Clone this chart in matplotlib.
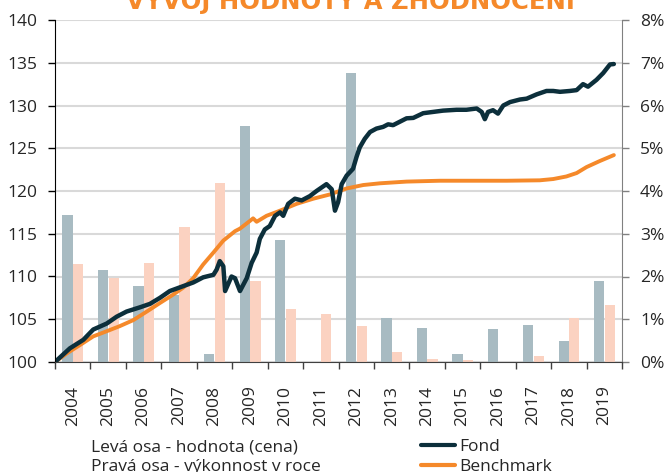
import matplotlib.pyplot as plt
from matplotlib.lines import Line2D

# yearly performance (right axis, %)
years = [str(y) for y in range(2004, 2020)]
fond_yearly = [3.43, 2.15, 1.77, 1.56, 0.19, 5.53, 2.86, 0.0, 6.77, 1.03, 0.80, 0.18, 0.78, 0.86, 0.50, 1.89]
bench_yearly = [2.30, 1.97, 2.32, 3.15, 4.18, 1.90, 1.23, 1.12, 0.84, 0.23, 0.08, 0.04, 0.0, 0.13, 1.02, 1.34]

# value development (left axis)
fond_t = [2004.00, 2004.42, 2004.80, 2005.08, 2005.46, 2005.74, 2006.02, 2006.40, 2006.68, 2006.96,
          2007.24, 2007.57, 2007.90, 2008.18, 2008.47, 2008.56, 2008.65, 2008.75, 2008.80, 2008.98,
          2009.08, 2009.22, 2009.41, 2009.55, 2009.69, 2009.78, 2009.92, 2010.06, 2010.21, 2010.35,
          2010.44, 2010.58, 2010.77, 2010.96, 2011.19, 2011.38, 2011.66, 2011.81, 2011.90, 2011.99,
          2012.09, 2012.23, 2012.41, 2012.51, 2012.60, 2012.74, 2012.89, 2013.07, 2013.26, 2013.40,
          2013.54, 2013.73, 2013.92, 2014.11, 2014.39, 2014.67, 2014.95, 2015.33, 2015.61, 2015.90,
          2016.04, 2016.13, 2016.22, 2016.36, 2016.50, 2016.65, 2016.84, 2017.12, 2017.31, 2017.59,
          2017.87, 2018.06, 2018.25, 2018.53, 2018.72, 2018.90, 2019.04, 2019.28, 2019.47, 2019.66,
          2019.77]
fond_v = [100.0, 101.6, 102.6, 103.8, 104.5, 105.3, 105.9, 106.4, 106.8, 107.5,
          108.3, 108.8, 109.3, 109.9, 110.2, 110.8, 111.8, 111.2, 108.3, 110.0,
          109.8, 108.3, 109.8, 111.6, 112.8, 114.4, 115.5, 115.9, 117.1, 117.5,
          117.1, 118.5, 119.1, 118.9, 119.4, 120.0, 120.8, 120.2, 117.7, 118.7,
          120.8, 121.8, 122.6, 124.0, 125.1, 126.1, 126.9, 127.3, 127.5, 127.8,
          127.7, 128.1, 128.5, 128.55, 129.1, 129.25, 129.4, 129.5, 129.5, 129.65,
          129.25, 128.4, 129.25, 129.45, 129.05, 130.0, 130.4, 130.7, 130.8, 131.3,
          131.7, 131.7, 131.6, 131.7, 131.8, 132.5, 132.2, 133.0, 133.8, 134.8,
          134.85]

bench_t = [2004.00, 2004.33, 2004.71, 2005.08, 2005.46, 2005.83, 2006.21, 2006.59, 2006.96, 2007.34,
           2007.62, 2007.90, 2008.18, 2008.47, 2008.75, 2009.08, 2009.22, 2009.50, 2009.59, 2009.69,
           2009.97, 2010.35, 2010.82, 2011.29, 2011.76, 2012.23, 2012.70, 2013.17, 2013.92, 2014.86,
           2015.80, 2016.74, 2017.68, 2018.06, 2018.43, 2018.72, 2019.00, 2019.37, 2019.77]
bench_v = [100.0, 101.0, 102.0, 103.0, 103.6, 104.2, 104.9, 105.9, 106.9, 107.9,
           108.7, 109.8, 111.4, 112.8, 114.2, 115.3, 115.6, 116.5, 116.8, 116.4,
           117.1, 117.7, 118.5, 119.1, 119.6, 120.3, 120.7, 120.9, 121.1, 121.2,
           121.2, 121.2, 121.25, 121.4, 121.7, 122.1, 122.8, 123.5, 124.2]

plt.rcParams['font.family'] = ['Open Sans', 'DejaVu Sans']
txt = '#262626'

fig = plt.figure(figsize=(6.65, 4.72), dpi=100)
ax = fig.add_axes([55 / 665, 1 - 362 / 472, 567 / 665, 342 / 472])
ax2 = ax.twinx()

# bars on the right axis
centers = [2004.5 + i for i in range(len(years))]
bw = 0.29
ax2.bar([c - bw / 2 for c in centers], fond_yearly, width=bw, color='#a8bbc2', linewidth=0, zorder=2)
ax2.bar([c + bw / 2 + 0.01 for c in centers], bench_yearly, width=bw, color='#fbd2c1', linewidth=0, zorder=2)
ax2.set_ylim(0, 8)
ax2.set_yticks(range(0, 9))
ax2.set_yticklabels([f'{i}%' for i in range(0, 9)])
ax2.set_axisbelow(True)
ax2.yaxis.grid(True, color='#d9d9d9', linewidth=1.5)

# lines on the left axis, drawn above bars
ax.set_zorder(ax2.get_zorder() + 1)
ax.patch.set_visible(False)
ax.plot(bench_t, bench_v, color='#f5892a', linewidth=2.8, solid_capstyle='round', label='Benchmark')
ax.plot(fond_t, fond_v, color='#0c2f3b', linewidth=3.2, solid_capstyle='round', label='Fond')
ax.set_ylim(100, 140)
ax.set_yticks(range(100, 141, 5))
ax.set_xlim(2004, 2020)
ax.set_xticks(centers)
ax.set_xticklabels(years, rotation=90)
ax.set_xticks(range(2004, 2021), minor=True)
ax.tick_params(axis='x', which='major', length=0, pad=17, labelsize=12.5, labelcolor=txt)
ax.tick_params(axis='x', which='minor', length=5, width=1, color='#404040')
ax.tick_params(axis='y', length=5, width=1, color='black', pad=8, labelsize=12.5, labelcolor=txt)
ax2.tick_params(axis='y', length=5, width=1, color='#808080', pad=8, labelsize=12.5, labelcolor=txt)

for a in (ax, ax2):
    a.spines['top'].set_visible(False)
ax.spines['right'].set_visible(False)
ax2.spines['left'].set_visible(False)
ax2.spines['bottom'].set_visible(False)
ax2.spines['right'].set_color('#808080')
ax.spines['left'].set_color('black')
ax.spines['bottom'].set_color('#404040')

# title, cut off at the top edge like in the original
fig.text(350 / 665, 1 - 9.5 / 472, 'VÝVOJ HODNOTY A ZHODNOCENÍ', ha='center', va='baseline',
         color='#f5892a', fontsize=17.5, fontweight='bold', family='DejaVu Sans')

fig.text(91 / 665, 1 - 447 / 472, 'Levá osa - hodnota (cena)', ha='left', va='center',
         fontsize=12.5, color=txt)
fig.text(91 / 665, 1 - 467 / 472, 'Pravá osa - výkonnost v roce', ha='left', va='center',
         fontsize=12.5, color=txt)

handles = [Line2D([], [], color='#0c2f3b', linewidth=3.0, solid_capstyle='round'),
           Line2D([], [], color='#f5892a', linewidth=3.0, solid_capstyle='round')]
fig.legend(handles, ['Fond', 'Benchmark'], loc='center left',
           bbox_to_anchor=(412 / 665, 1 - 457 / 472), frameon=False, fontsize=12.5,
           handlelength=2.0, handletextpad=0.2, labelspacing=0.25, borderpad=0,
           labelcolor=txt)

fig.savefig('out.png', dpi=100)
